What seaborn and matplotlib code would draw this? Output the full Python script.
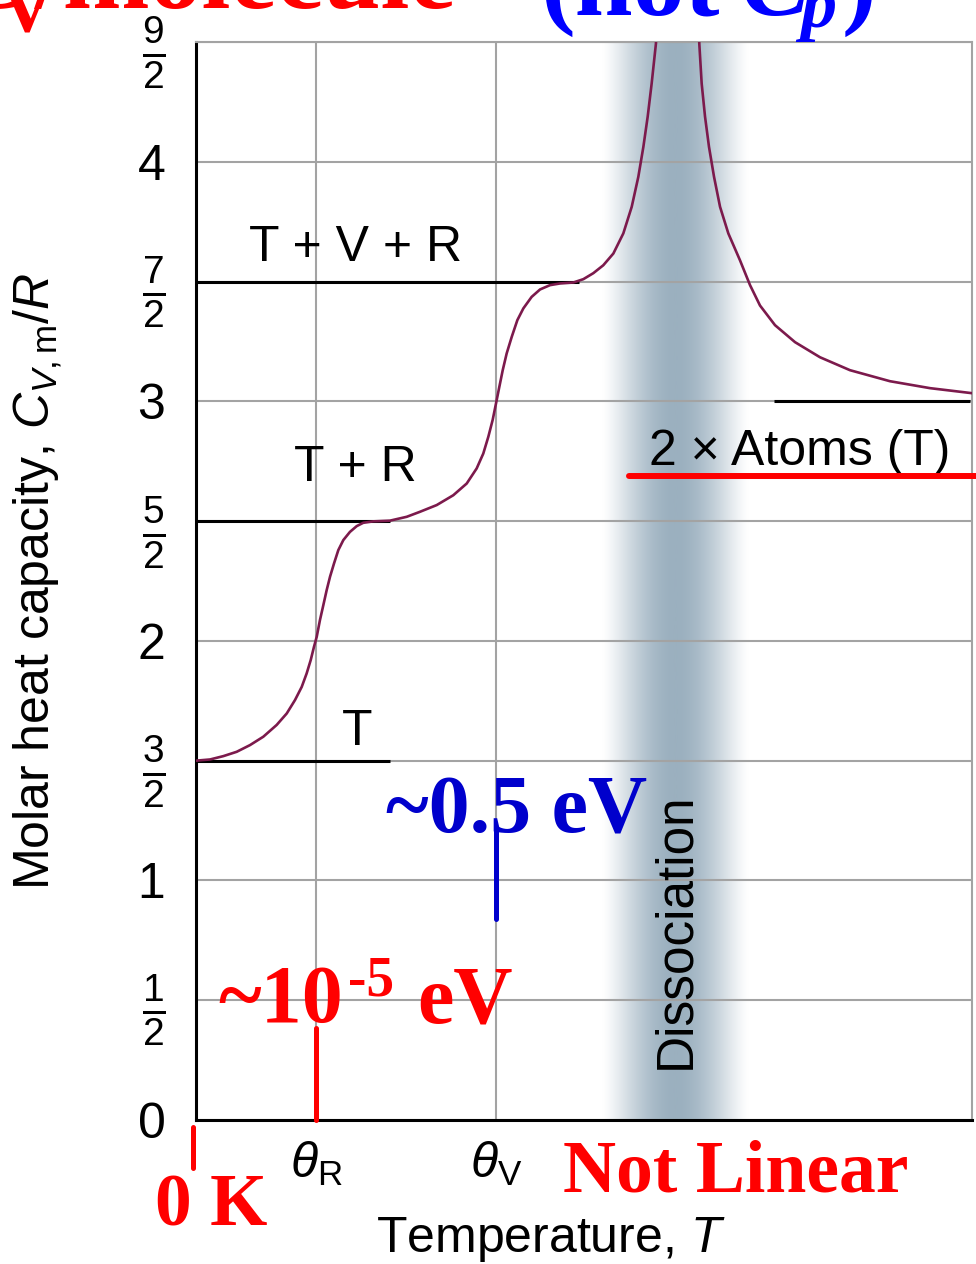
import numpy as np
import pandas as pd
import matplotlib.pyplot as plt
from matplotlib.colors import LinearSegmentedColormap
import seaborn as sns

# heat capacity curve (T in units of theta_R, C/R)
temp = [0.0, 0.117, 0.228, 0.339, 0.45, 0.561, 0.672, 0.756, 0.825, 0.881, 0.922,
        0.956, 0.983, 1.006, 1.033, 1.061, 1.089, 1.117, 1.15, 1.186, 1.228, 1.283,
        1.339, 1.394, 1.478, 1.617, 1.756, 1.867, 2.006, 2.144, 2.256, 2.339, 2.394,
        2.436, 2.472, 2.5, 2.528, 2.556, 2.589, 2.631, 2.678, 2.728, 2.797, 2.867,
        2.95, 3.033, 3.144, 3.228, 3.311, 3.394, 3.478, 3.561, 3.631, 3.686, 3.728,
        3.764, 3.797, 3.833, 4.0, 4.194, 4.214, 4.242, 4.275, 4.317, 4.367, 4.436,
        4.533, 4.617, 4.7, 4.825, 4.992, 5.2, 5.45, 5.783, 6.117, 6.467]
cv = [1.5, 1.505, 1.519, 1.537, 1.565, 1.6, 1.649, 1.697, 1.753, 1.808, 1.864,
      1.92, 1.975, 2.017, 2.087, 2.149, 2.212, 2.268, 2.323, 2.379, 2.421, 2.455,
      2.479, 2.493, 2.499, 2.502, 2.518, 2.539, 2.567, 2.608, 2.657, 2.72, 2.782,
      2.852, 2.922, 2.991, 3.061, 3.13, 3.2, 3.269, 3.339, 3.388, 3.436, 3.467,
      3.485, 3.492, 3.496, 3.51, 3.535, 3.568, 3.617, 3.701, 3.812, 3.937, 4.062,
      4.188, 4.326, 4.494, 8.0, 4.494, 4.326, 4.188, 4.062, 3.937, 3.812, 3.701,
      3.589, 3.485, 3.40, 3.318, 3.247, 3.184, 3.13, 3.084, 3.055, 3.034]

# plateau reference lines
plateau_level = [1.5, 2.5, 3.5, 3.0]
plateau_start = [0.0, 0.0, 0.0, 4.82]
plateau_end = [1.62, 1.62, 3.19, 6.45]
plateau_label = ["T", "T + R", "T + V + R", "2 × Atoms (T)"]
label_x = [1.34, 1.33, 1.33, 5.03]
label_y = [1.62, 2.72, 3.64, 2.79]

yticks = [0, 0.5, 1, 1.5, 2, 2.5, 3, 3.5, 4, 4.5]
ytick_labels = ["0", r"$\frac{1}{2}$", "1", r"$\frac{3}{2}$", "2", r"$\frac{5}{2}$",
                "3", r"$\frac{7}{2}$", "4", r"$\frac{9}{2}$"]
xticks = [1.0, 2.5]
xtick_labels = [r"$\theta_{\mathrm{R}}$", r"$\theta_{\mathrm{V}}$"]
dissociation_T = 4.0

sns.set_theme(style="white")
plt.rcParams['font.family'] = ['Liberation Sans', 'DejaVu Sans']
plt.rcParams['mathtext.fontset'] = 'custom'
plt.rcParams['mathtext.rm'] = 'Liberation Sans'
plt.rcParams['mathtext.it'] = 'Liberation Sans:italic'
plt.rcParams['mathtext.bf'] = 'Liberation Sans:bold'

W, H = 976, 1264
fig = plt.figure(figsize=(W / 100, H / 100), dpi=100)
ax = fig.add_axes([196 / W, 1 - 1120 / H, 776 / W, 1078 / H])

# dissociation band
d = np.linspace(-1, 1, 400)
prof = np.cos(np.pi * d / 2) ** 1.3
band_cmap = LinearSegmentedColormap.from_list("band", ["#ffffff", "#9bb0bf"])
ax.imshow(prof[None, :], extent=[dissociation_T - 0.62, dissociation_T + 0.6, 0, 4.5],
          aspect='auto', cmap=band_cmap, vmin=0, vmax=1, zorder=0.2)

ax.set_yticks(yticks)
ax.set_yticklabels(ytick_labels)
ax.set_xticks(xticks)
ax.set_xticklabels(xtick_labels)
ax.grid(True, color='#a3a3a3', lw=1.5)
ax.set_axisbelow(True)

ax.hlines(plateau_level, plateau_start, plateau_end, color='black', lw=2.2, zorder=2)
sns.lineplot(x=temp, y=cv, sort=False, estimator=None, color='#7c1a4c', lw=1.9, ax=ax, zorder=3)

for lab, lx, ly in zip(plateau_label, label_x, label_y):
    ax.text(lx, ly, lab, ha='center', va='center', fontsize=36, color='black', zorder=4)

ax.text(dissociation_T, 0.79, "Dissociation", rotation=90, ha='center', va='center',
        fontsize=37, color='black', zorder=4)

ax.set_xlim(0, 776 / 120)
ax.set_ylim(0, 4.5)
ax.tick_params(axis='y', length=0, pad=22, labelsize=36, colors='black')
ax.tick_params(axis='x', length=0, pad=14, labelsize=36, colors='black')
for lbl in ax.get_yticklabels():
    if 'frac' in lbl.get_text():
        lbl.set_fontsize(40)
for s in ['left', 'bottom']:
    ax.spines[s].set_color('black')
    ax.spines[s].set_linewidth(2.2)
for s in ['top', 'right']:
    ax.spines[s].set_color('#a3a3a3')
    ax.spines[s].set_linewidth(1.5)

ax.set_xlabel(r"Temperature, $T$", fontsize=36, color='black')
ax.xaxis.set_label_coords(0.457, -0.088)
ax.set_ylabel(r"Molar heat capacity, $C_{V,\mathrm{m}}/R$", fontsize=36, color='black')
ax.yaxis.set_label_coords(-0.17, 0.5)

# red / blue annotations
ax.plot([3.61, 6.5], [2.69, 2.69], color='red', lw=4.3, clip_on=False, zorder=5)
ax.plot([-0.025, -0.025], [-0.03, -0.2], color='red', lw=3.6, clip_on=False, zorder=5)
ax.plot([1.0, 1.0], [0.0, 0.384], color='red', lw=3.6, clip_on=False, zorder=5)
ax.plot([2.5, 2.5], [0.84, 1.22], color='#0000cc', lw=3.6, clip_on=False, zorder=5)


def ftext(px, py, s, size, color, **kw):
    fig.text(px / W, 1 - py / H, s, fontsize=size, color=color, va='baseline',
             ha='left', family=['Liberation Serif', 'DejaVu Serif'], weight='bold', **kw)


ftext(386, 832, "~0.5 eV", 59, '#0000cc')
ftext(218, 1022, "~10", 59, 'red')
ftext(348, 995, "-5", 40, 'red')
ftext(417, 1022, "eV", 59, 'red')
ftext(155, 1226, "0 K", 53, 'red')
ftext(563, 1192, "Not Linear", 53, 'red')

# clipped title strip at the top
ftext(-45, 8, "C", 75, 'red')
ftext(0, 30, "V", 52, 'red')
ftext(34, 8, "/molecule", 75, 'red')
ftext(540, 15, "(not", 75, 'blue')
ftext(740, 15, "C", 75, 'blue', style='italic')
ftext(800, 27, "p", 52, 'blue', style='italic')
ftext(842, 15, ")", 75, 'blue')

fig.savefig("out.png", dpi=100)
